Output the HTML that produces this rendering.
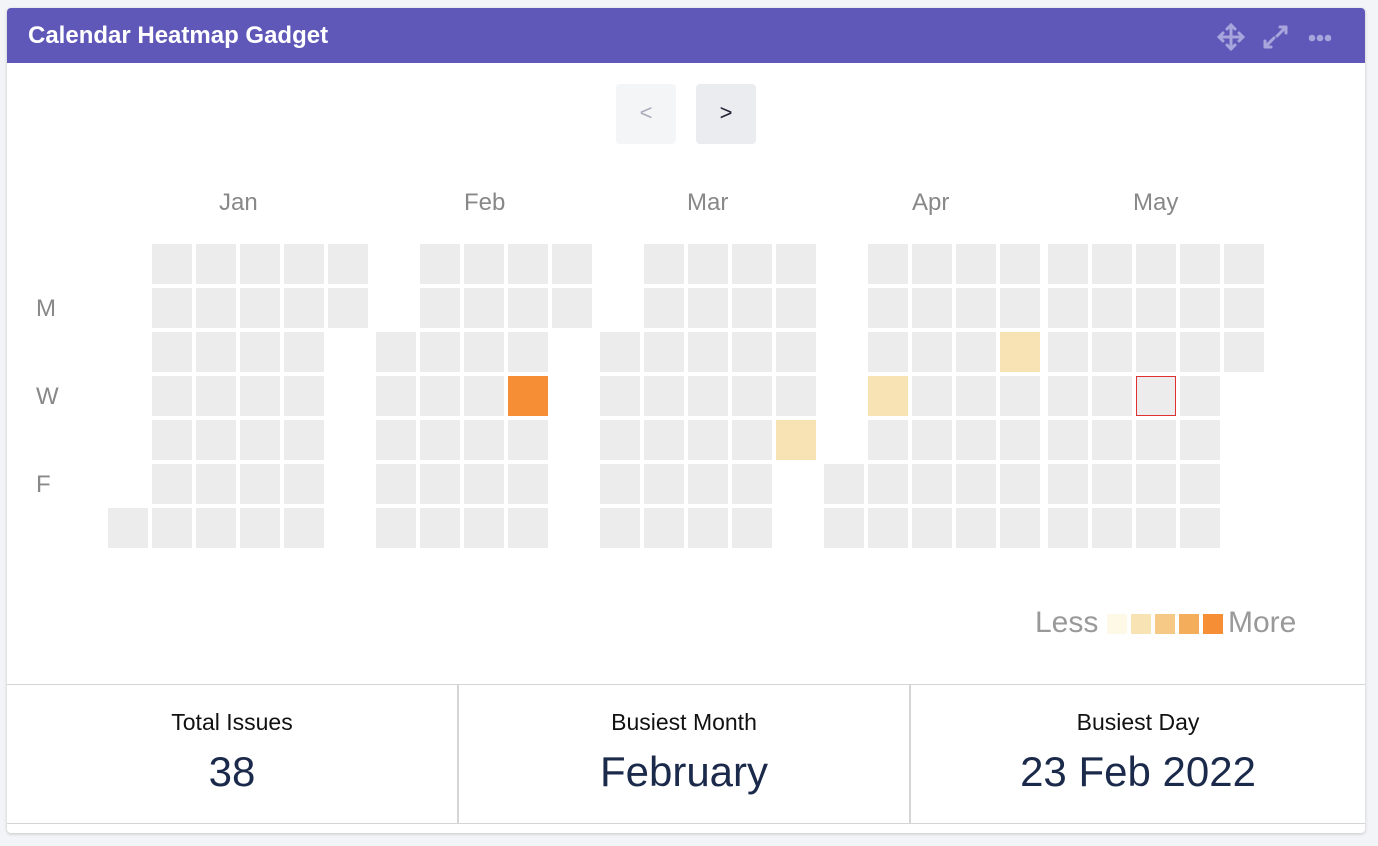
<!DOCTYPE html>
<html><head><meta charset="utf-8"><style>
body{margin:0;width:1378px;height:846px;background:#f3f4f7;font-family:"Liberation Sans",sans-serif;position:relative;overflow:hidden}
.card{position:absolute;left:7px;top:8px;width:1358px;height:825px;background:#fff;border-radius:4px;box-shadow:0 1px 3px rgba(0,0,0,.2);overflow:hidden}
.hdr{position:absolute;left:0;top:0;width:1358px;height:55px;background:#5f58b9}
.title{position:absolute;left:21px;top:14px;color:#fff;font-weight:bold;font-size:24px}
.btn{position:absolute;top:84px;width:60px;height:60px;border-radius:4px;font-size:22px;text-align:center;line-height:58px}
.m{position:absolute;top:189px;font-size:24px;color:#888}
.d{position:absolute;font-size:24px;color:#888;left:36px}
.c{position:absolute;width:40px;height:40px;background:#ececec;box-sizing:border-box}
.l{position:absolute;top:614px;width:20px;height:20px}
.sl{position:absolute;top:709px;font-size:23px;color:#111;text-align:center}
.sv{position:absolute;top:748px;font-size:42px;color:#1b2a4a;text-align:center}
</style></head><body>
<div class="card">
<div class="hdr"><div class="title">Calendar Heatmap Gadget</div>
<svg style="position:absolute;left:1208px;top:14px" width="120" height="30" viewBox="0 0 120 30" fill="none" stroke="#a8a4dc" stroke-width="3" stroke-linecap="round">
<path d="M16 3v24M4 15h24M12 7l4-4 4 4M12 23l4 4 4-4M8 11l-4 4 4 4M24 11l4 4-4 4"/>
<path d="M50 25l9-9M50 25v-6M50 25h6M71 5l-9 9M71 5v6M71 5h-6"/>
<circle cx="97" cy="16" r="1.8" fill="#a8a4dc"/><circle cx="105" cy="16" r="1.8" fill="#a8a4dc"/><circle cx="113" cy="16" r="1.8" fill="#a8a4dc"/>
</svg></div>
</div>
<div class="btn" style="left:616px;background:#f4f5f7;color:#aab">&lt;</div>
<div class="btn" style="left:696px;background:#ebecf0;color:#223">&gt;</div>
<div class="m" style="left:219px">Jan</div><div class="m" style="left:464px">Feb</div><div class="m" style="left:687px">Mar</div><div class="m" style="left:912px">Apr</div><div class="m" style="left:1133px">May</div>
<div class="d" style="top:295px">M</div><div class="d" style="top:383px">W</div><div class="d" style="top:471px">F</div>
<div id="g"></div>
<div style="position:absolute;left:1035px;top:606px;font-size:30px;color:#999">Less</div>
<div class="l" style="left:1107px;background:#fef8e6"></div><div class="l" style="left:1131px;background:#f8e3b5"></div><div class="l" style="left:1155px;background:#f6c987"></div><div class="l" style="left:1179px;background:#f4ad5a"></div><div class="l" style="left:1203px;background:#f68e35"></div>
<div style="position:absolute;left:1228px;top:606px;font-size:30px;color:#999">More</div>
<div style="position:absolute;left:7px;top:684px;width:1358px;height:1px;background:#d5d5d5"></div>
<div style="position:absolute;left:7px;top:823px;width:1358px;height:1px;background:#d5d5d5"></div>
<div style="position:absolute;left:457px;top:685px;width:2px;height:138px;background:#d5d5d5"></div>
<div style="position:absolute;left:909px;top:685px;width:2px;height:138px;background:#d5d5d5"></div>
<div class="sl" style="left:7px;width:450px">Total Issues</div><div class="sv" style="left:7px;width:450px">38</div>
<div class="sl" style="left:459px;width:450px">Busiest Month</div><div class="sv" style="left:459px;width:450px">February</div>
<div class="sl" style="left:911px;width:454px">Busiest Day</div><div class="sv" style="left:911px;width:454px">23 Feb 2022</div>
<script>
var cols=[[108,6,6],[152,0,6],[196,0,6],[240,0,6],[284,0,6],[328,0,1],
[376,2,6],[420,0,6],[464,0,6],[508,0,6],[552,0,1],
[600,2,6],[644,0,6],[688,0,6],[732,0,6],[776,0,4],
[824,5,6],[868,0,6],[912,0,6],[956,0,6],[1000,0,6],
[1048,0,6],[1092,0,6],[1136,0,6],[1180,0,6],[1224,0,2]];
var sp={"508,3":"background:#f68e35","776,4":"background:#f8e3b5","868,3":"background:#f8e3b5","1000,2":"background:#f8e3b5","1136,3":"border:1.5px solid #e03030"};
var h="";cols.forEach(function(c){for(var r=c[1];r<=c[2];r++){h+='<div class="c" style="left:'+c[0]+'px;top:'+(244+r*44)+'px;'+(sp[c[0]+","+r]||"")+'"></div>';}});
document.getElementById("g").innerHTML=h;
</script>
</body></html>
